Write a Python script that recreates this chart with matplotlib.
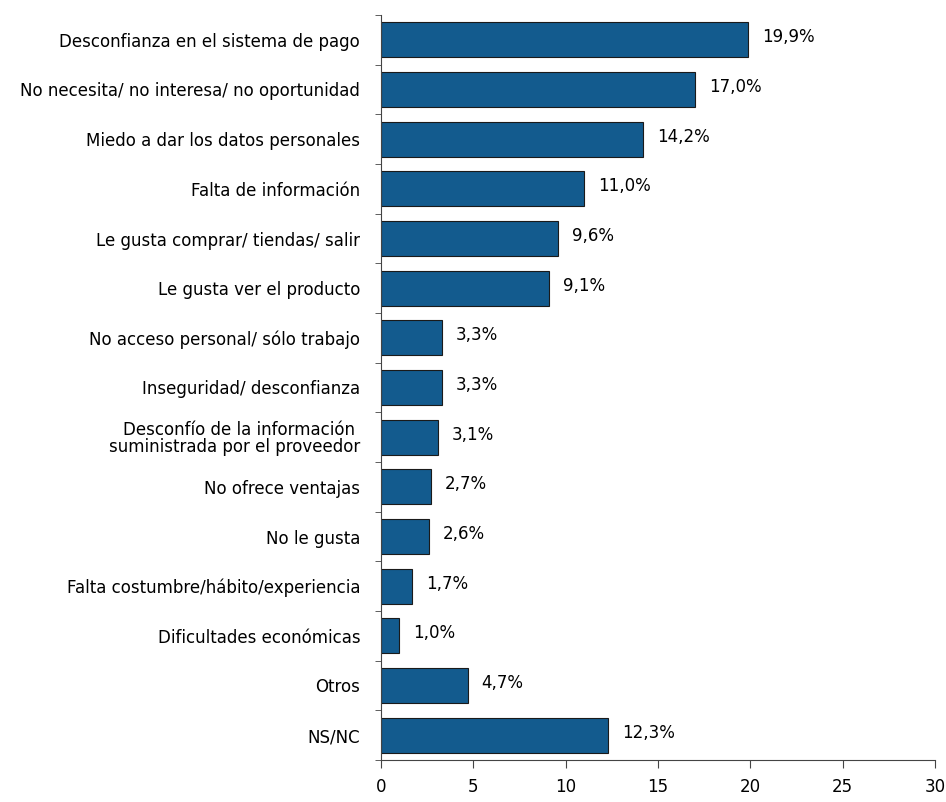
import numpy as np
import matplotlib.pyplot as plt

categories = [
    "Desconfianza en el sistema de pago",
    "No necesita/ no interesa/ no oportunidad",
    "Miedo a dar los datos personales",
    "Falta de información",
    "Le gusta comprar/ tiendas/ salir",
    "Le gusta ver el producto",
    "No acceso personal/ sólo trabajo",
    "Inseguridad/ desconfianza",
    "Desconfío de la información \nsuministrada por el proveedor",
    "No ofrece ventajas",
    "No le gusta",
    "Falta costumbre/hábito/experiencia",
    "Dificultades económicas",
    "Otros",
    "NS/NC",
]
values = [19.9, 17.0, 14.2, 11.0, 9.6, 9.1, 3.3, 3.3, 3.1, 2.7, 2.6, 1.7, 1.0, 4.7, 12.3]
xticks = [0, 5, 10, 15, 20, 25, 30]

plt.rcParams['font.family'] = 'DejaVu Sans'

fig = plt.figure(figsize=(9.46, 8.02), dpi=100)
ax = fig.add_axes([381 / 946, 1 - 760 / 802, (935 - 381) / 946, (760 - 15) / 802])

y = np.arange(len(categories))
ax.barh(y, values, height=0.7, color='#135b8e', edgecolor='#1a1a1a', linewidth=0.8)

# etiquetas de valor con coma decimal
for yi, v in zip(y, values):
    ax.text(v + 0.75, yi - 0.05, f"{v:.1f}%".replace('.', ','), va='center', ha='left', fontsize=12)

ax.set_ylim(len(categories) - 0.5, -0.5)
ax.set_xlim(0, 30)
ax.set_xticks(xticks)
ax.set_xticklabels([str(t) for t in xticks], fontsize=12)
ax.tick_params(axis='x', direction='out', length=6, pad=7, color='#444444')

ax.set_yticks(y)
ax.set_yticklabels(categories, fontsize=12, linespacing=0.95)
ax.tick_params(axis='y', which='major', length=0, pad=15)
ax.set_yticks(np.arange(-0.5, len(categories), 1), minor=True)
ax.tick_params(axis='y', which='minor', direction='out', length=4, color='#444444')

for s in ['top', 'right']:
    ax.spines[s].set_visible(False)
for s in ['left', 'bottom']:
    ax.spines[s].set_color('#444444')

plt.savefig('out.png', dpi=100)
